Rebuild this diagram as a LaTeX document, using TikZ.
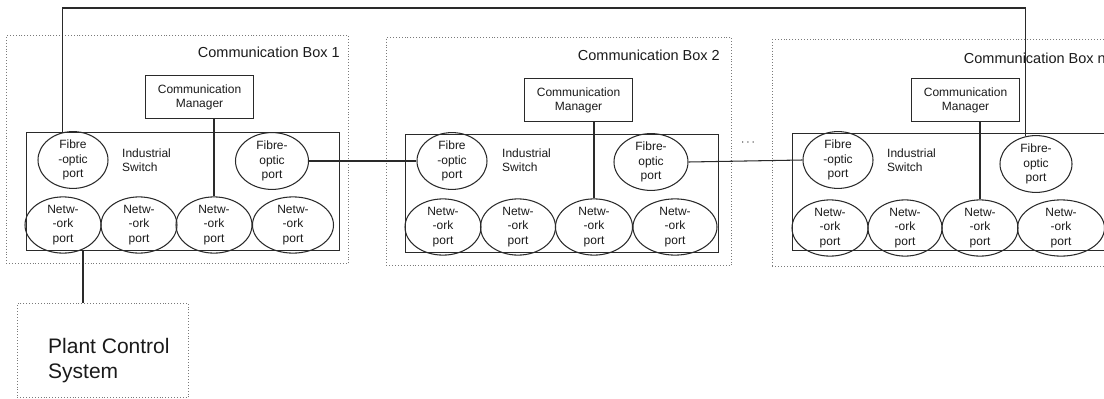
\documentclass[tikz,border=0pt]{standalone}
\usepackage{fontspec}
\setmainfont{Liberation Sans}
\usetikzlibrary{shapes.geometric}
\definecolor{ln}{HTML}{2A2A2A}
\definecolor{dt}{HTML}{7A7A7A}
\definecolor{tx}{HTML}{1A1A1A}
\begin{document}
\begin{tikzpicture}[x=1pt,y=-1pt,
  commbox/.style={draw=dt, dotted, line width=0.9pt, anchor=north west, inner sep=0},
  switchbox/.style={draw=ln, line width=1.05pt, anchor=north west, inner sep=0},
  mgr/.style={draw=ln, line width=1.05pt, anchor=north west, inner sep=0, align=center, text=tx, font=\fontsize{12}{14}\selectfont},
  port/.style={ellipse, draw=ln, line width=1.05pt, inner sep=0, align=center, text=tx, font=\fontsize{12}{14.5}\selectfont},
  boxlabel/.style={anchor=east, inner sep=0, text=tx, font=\fontsize{14.5}{17}\selectfont},
  swlabel/.style={anchor=west, align=left, inner sep=0, text=tx, font=\fontsize{12}{14.5}\selectfont},
  wire/.style={draw=ln, line width=1.05pt}]
\useasboundingbox (0,0) rectangle (1104,399);

% ---------- Communication Box 1 ----------
\node[commbox, minimum width=342pt, minimum height=228pt] (b1) at (6,35) {};
\node[boxlabel] (b1l) at (340,52) {Communication Box 1};
\node[mgr, minimum width=108pt, minimum height=43pt] (cm1) at (145,75) {Communication\\Manager};
\node[switchbox, minimum width=313pt, minimum height=118pt] (sw1) at (26,132) {};
\node[swlabel] (sl1) at (122,160) {Industrial\\Switch};
\node[port, minimum width=70pt, minimum height=50pt] (fl1) at (73,160) {Fibre\\-optic\\port};
\node[port, minimum width=73pt, minimum height=51pt] (fr1) at (272,161) {Fibre-\\optic\\port};
\node[port, minimum width=76pt, minimum height=50pt] (n11) at (63,225) {Netw-\\-ork\\port};
\node[port, minimum width=76pt, minimum height=50pt] (n12) at (139,225) {Netw-\\-ork\\port};
\node[port, minimum width=76pt, minimum height=50pt] (n13) at (214,225) {Netw-\\-ork\\port};
\node[port, minimum width=81pt, minimum height=50pt] (n14) at (293,225) {Netw-\\-ork\\port};

% ---------- Communication Box 2 ----------
\node[commbox, minimum width=345pt, minimum height=228pt] (b2) at (386,37) {};
\node[boxlabel] (b2l) at (720,55) {Communication Box 2};
\node[mgr, minimum width=108pt, minimum height=43pt] (cm2) at (524,78) {Communication\\Manager};
\node[switchbox, minimum width=313pt, minimum height=118pt] (sw2) at (405,134) {};
\node[swlabel] (sl2) at (502,160) {Industrial\\Switch};
\node[port, minimum width=70pt, minimum height=52pt] (fl2) at (452,161) {Fibre\\-optic\\port};
\node[port, minimum width=74pt, minimum height=54pt] (fr2) at (651,162) {Fibre-\\optic\\port};
\node[port, minimum width=76pt, minimum height=51pt] (n21) at (443,227) {Netw-\\-ork\\port};
\node[port, minimum width=75pt, minimum height=51pt] (n22) at (518,227) {Netw-\\-ork\\port};
\node[port, minimum width=77pt, minimum height=51pt] (n23) at (594,227) {Netw-\\-ork\\port};
\node[port, minimum width=84pt, minimum height=51pt] (n24) at (675,227) {Netw-\\-ork\\port};

\node[inner sep=0, text=tx, font=\fontsize{13}{14}\selectfont] (dots) at (748,143) {$\cdots$};

% ---------- Communication Box n ----------
\node[commbox, minimum width=342pt, minimum height=227pt] (bn) at (772,39) {};
\node[boxlabel] (bnl) at (1106,58) {Communication Box n};
\node[mgr, minimum width=108pt, minimum height=43pt] (cmn) at (911,78) {Communication\\Manager};
\node[switchbox, minimum width=313pt, minimum height=117pt] (swn) at (792,133) {};
\node[swlabel] (sln) at (887,160) {Industrial\\Switch};
\node[port, minimum width=70pt, minimum height=54pt] (fln) at (838,160) {Fibre\\-optic\\port};
\node[port, minimum width=72pt, minimum height=56pt] (frn) at (1036,164) {Fibre-\\optic\\port};
\node[port, minimum width=76pt, minimum height=52pt] (nn1) at (830,228) {Netw-\\-ork\\port};
\node[port, minimum width=74pt, minimum height=52pt] (nn2) at (905,228) {Netw-\\-ork\\port};
\node[port, minimum width=76pt, minimum height=52pt] (nn3) at (980,228) {Netw-\\-ork\\port};
\node[port, minimum width=87pt, minimum height=52pt] (nn4) at (1061,228) {Netw-\\-ork\\port};

% ---------- Plant Control System ----------
\node[commbox, minimum width=171pt, minimum height=94pt] (pcs) at (17,303) {};
\node[anchor=west, align=left, inner sep=0, text=tx, font=\fontsize{21}{25}\selectfont] (pcsl) at (48,361) {Plant Control\\System};

% ---------- connectors ----------
\coordinate (topy) at (0,8);
\draw[wire] (fl1.110) -- (fl1.110 |- topy) -| (frn.110);
\draw[wire] (fr1.east) -- (fl2.west);
\draw[wire] (fr2.east) -- (fln.west);
\draw[wire] (n13.north) -- (n13.north |- cm1.south);
\draw[wire] (n23.north) -- (n23.north |- cm2.south);
\draw[wire] (nn3.north) -- (nn3.north |- cmn.south);
\coordinate (pcstop) at (83,250);
\draw[wire] (pcstop) -- (pcstop |- pcs.north);
\end{tikzpicture}
\end{document}
